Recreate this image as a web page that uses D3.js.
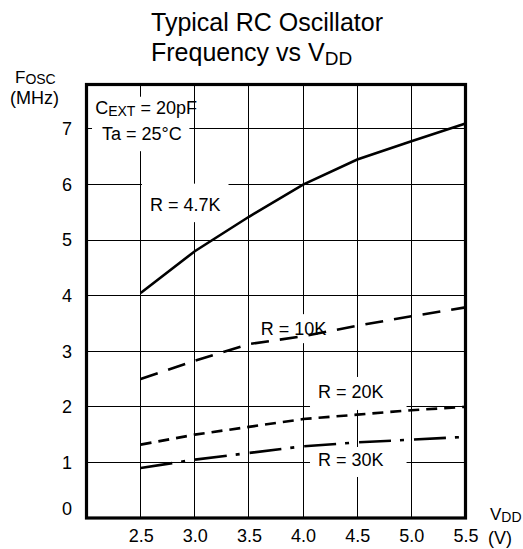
<!DOCTYPE html>
<html><head><meta charset="utf-8">
<script src="https://cdn.jsdelivr.net/npm/d3@7"></script>
<style>
html,body{margin:0;padding:0;background:#fff;}
svg{display:block;font-family:"Liberation Sans",Arial,Helvetica,sans-serif;}
</style></head><body>
<svg id="chart" width="523" height="549"></svg>
<script>
// Supply voltage (V) and oscillator frequency (MHz) per external resistor
const vddVolts = [2.5, 3.0, 3.5, 4.0, 4.5, 5.0, 5.5];
const freqR4k7 = [4.05, 4.80, 5.42, 6.00, 6.45, 6.78, 7.10];
const freqR10k = [2.50, 2.83, 3.13, 3.27, 3.46, 3.63, 3.79];
const freqR20k = [1.32, 1.50, 1.64, 1.78, 1.86, 1.94, 2.00];
const freqR30k = [0.90, 1.05, 1.17, 1.29, 1.36, 1.41, 1.46];
const seriesNames = ["R = 4.7K", "R = 10K", "R = 20K", "R = 30K"];

const xTickValues = [2.5, 3.0, 3.5, 4.0, 4.5, 5.0, 5.5];
const yTickValues = [0, 1, 2, 3, 4, 5, 6, 7];
const xGridValues = [2.5, 3.0, 3.5, 4.0, 4.5, 5.0];
const yGridValues = [1, 2, 3, 4, 5, 6, 7];

const svg = d3.select("#chart");
const plot = {left: 86.5, right: 465.5, top: 84.5, bottom: 518};
const x = d3.scaleLinear().domain([2.0, 5.5]).range([plot.left, plot.right]);
const y = d3.scaleLinear().domain([0, 7.8]).range([plot.bottom, plot.top]);

// Line styles for each resistor curve
const dashes = [null, "18,11", "11,7", "32,9,4,10"];
const series = [freqR4k7, freqR10k, freqR20k, freqR30k].map((vals, i) => ({
  name: seriesNames[i],
  points: vddVolts.map((v, j) => ({v, f: vals[j]})),
  dash: dashes[i]
}));

// Annotation placement (data units) and the white knock-out box padding [top,right,bottom,left]
const notes = [
  {parts: [["C", 0], ["EXT", 1], [" = 20pF", 0]], x: 2.08, y: 7.27, pad: null},
  {parts: [["Ta = 25°C", 0]], x: 2.143, y: 6.80, pad: null},
  {parts: [[seriesNames[0], 0]], x: 2.586, y: 5.53, pad: [11, 8, 7.5, 8]},
  {parts: [[seriesNames[1], 0]], x: 3.609, y: 3.29, pad: [5, 10, 4, 6]},
  {parts: [[seriesNames[2], 0]], x: 4.138, y: 2.16, pad: [5, 23, 8, 8]},
  {parts: [[seriesNames[3], 0]], x: 4.138, y: 0.936, pad: [3, 23, 7, 8]}
];

// Grid
const grid = svg.append("g").attr("stroke", "#000").attr("stroke-width", 1).attr("shape-rendering", "crispEdges");
grid.selectAll("line.v").data(xGridValues).join("line").attr("class", "v")
  .attr("x1", d => x(d)).attr("x2", d => x(d)).attr("y1", plot.top).attr("y2", plot.bottom);
grid.selectAll("line.h").data(yGridValues).join("line").attr("class", "h")
  .attr("x1", plot.left).attr("x2", plot.right).attr("y1", d => y(d)).attr("y2", d => y(d));

// Text helper with subscript support
function addRich(g, parts, px, py, size, subSize, subDy) {
  const t = g.append("text").attr("x", px).attr("y", py).attr("font-size", size).attr("fill", "#000");
  let shifted = false;
  parts.forEach(([s, sub]) => {
    const ts = t.append("tspan").text(s);
    if (sub) { ts.attr("font-size", subSize).attr("dy", shifted ? 0 : subDy); shifted = true; }
    else if (shifted) { ts.attr("dy", -subDy); shifted = false; }
  });
  return t;
}

// White box behind the conditions block
const boxLayer = svg.append("g");
boxLayer.append("rect").attr("x", x(2.051)).attr("y", y(7.58)).attr("width", x(2.95) - x(2.051))
  .attr("height", y(6.6) - y(7.58)).attr("fill", "#fff");

const noteLayer = svg.append("g");
notes.forEach(n => {
  const t = addRich(noteLayer, n.parts, x(n.x), y(n.y), 18, 14, 2);
  if (n.pad) {
    const b = t.node().getBBox();
    const [pt, pr, pb, pl] = n.pad;
    boxLayer.append("rect").attr("x", b.x - pl).attr("y", b.y - pt)
      .attr("width", b.width + pl + pr).attr("height", b.height + pt + pb).attr("fill", "#fff");
  }
});

// Curves
const line = d3.line().x(d => x(d.v)).y(d => y(d.f));
svg.append("g").selectAll("path").data(series).join("path")
  .attr("d", d => line(d.points))
  .attr("fill", "none").attr("stroke", "#000").attr("stroke-width", 2.6)
  .attr("stroke-dasharray", d => d.dash);

noteLayer.raise();

// Frame
svg.append("rect").attr("x", plot.left).attr("y", plot.top)
  .attr("width", plot.right - plot.left).attr("height", plot.bottom - plot.top)
  .attr("fill", "none").attr("stroke", "#000").attr("stroke-width", 3.2);

// Axes
const xAxis = svg.append("g").attr("transform", `translate(0,${plot.bottom})`)
  .call(d3.axisBottom(x).tickValues(xTickValues).tickFormat(d3.format(".1f")).tickSize(0).tickPadding(11));
const yAxis = svg.append("g").attr("transform", `translate(${plot.left},0)`)
  .call(d3.axisLeft(y).tickValues(yTickValues).tickFormat(d3.format("d")).tickSize(0).tickPadding(14.5));
[xAxis, yAxis].forEach(a => {
  a.select(".domain").remove();
  a.selectAll("text").attr("font-size", 18).attr("font-family", null).attr("fill", "#000");
});
yAxis.selectAll(".tick").filter(d => d === 0).select("text").attr("dy", "-0.2em");

// Axis titles
const titles = svg.append("g");
addRich(titles, [["F", 0], ["OSC", 1]], 15, 82.5, 17, 14, 1);
titles.append("text").attr("x", 10).attr("y", 104).attr("font-size", 18).attr("fill", "#000").text("(MHz)");
addRich(titles, [["V", 0], ["DD", 1]], 490, 520, 17, 14, 2);
titles.append("text").attr("x", 488).attr("y", 544).attr("font-size", 18).attr("fill", "#000").text("(V)");

// Chart title
titles.append("text").attr("x", 151).attr("y", 31).attr("font-size", 25).attr("fill", "#000").text("Typical RC Oscillator");
addRich(titles, [["Frequency vs V", 0], ["DD", 1]], 151, 61, 25, 19, 4);
</script>
</body></html>
